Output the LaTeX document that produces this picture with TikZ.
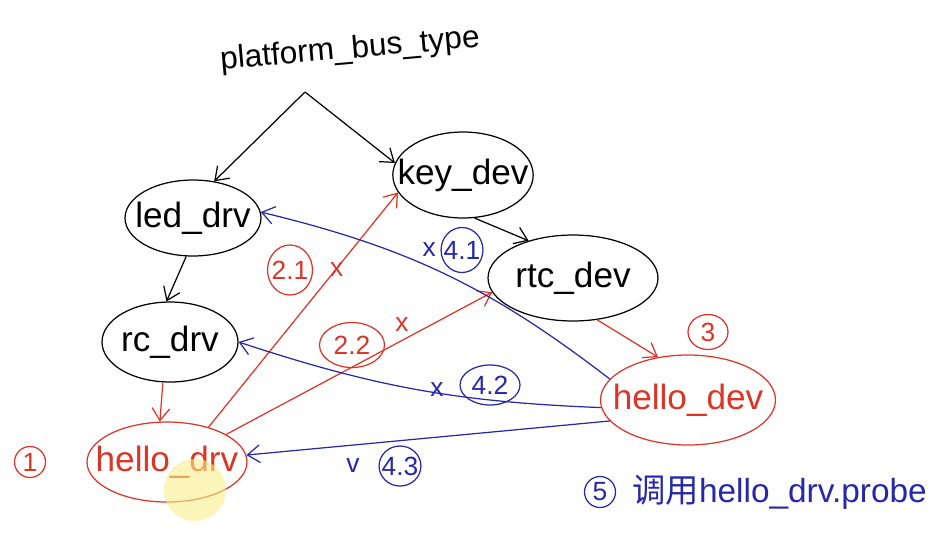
\documentclass[tikz,border=0pt]{standalone}
\usepackage{fontspec}
\setmainfont{Liberation Sans}
\newfontfamily\cjkfont{Noto Sans CJK SC}
\usetikzlibrary{shapes.geometric,arrows.meta,positioning}
\definecolor{inkred}{RGB}{221,52,38}
\definecolor{inkblue}{RGB}{38,40,170}
\definecolor{cursorhl}{RGB}{250,238,140}
\newcommand\handfont{\fontsize{20}{22}\selectfont}
\newcommand\tagfont{\fontsize{15}{16}\selectfont}
\tikzset{
  >={Straight Barb[length=7pt,width=10pt]},
  blob/.style={ellipse,draw=black,line width=0.7pt,inner xsep=-9pt,inner ysep=0pt,font=\handfont},
  redblob/.style={blob,draw=inkred,text=inkred},
  ring/.style={ellipse,draw,line width=0.7pt,inner sep=-2pt,font=\tagfont},
  redring/.style={ring,draw=inkred,text=inkred},
  bluering/.style={ring,draw=inkblue,text=inkblue},
  redcross/.style={text=inkred,font=\tagfont,inner sep=1pt},
  bluecross/.style={text=inkblue,font=\tagfont,inner sep=1pt},
  blacklink/.style={->,black,line width=0.7pt},
  redlink/.style={->,inkred,line width=0.7pt},
  bluelink/.style={->,inkblue,line width=0.7pt},
}
\begin{document}
\begin{tikzpicture}[x=0.02cm,y=-0.02cm]
        \useasboundingbox (0,0) rectangle (950,532);
        % bus and devices / drivers
        \node[font=\fontsize{18}{20}\selectfont,rotate=5] (bus) at (350,50) {platform\_bus\_type};
        \coordinate (fork) at (305,92);
        \node[blob,minimum width=2.72cm,minimum height=1.52cm] (ledDrv) at (193,218) {led\_drv};
        \node[blob,minimum width=2.8cm,minimum height=1.72cm] (keyDev) at (463,175) {key\_dev};
        \node[blob,minimum width=3.4cm,minimum height=1.72cm] (rtcDev) at (573,278) {rtc\_dev};
        \node[blob,minimum width=2.72cm,minimum height=1.6cm] (rcDrv) at (170,342) {rc\_drv};
        \node[redblob,minimum width=3.2cm,minimum height=1.6cm] (helloDrv) at (167,462) {hello\_drv};
        \node[redblob,minimum width=3.5cm,minimum height=1.8cm] (helloDev) at (688,400) {hello\_dev};
        % step tags
        \node[redring,circle,minimum size=0.62cm] (t1) at (30,462) {1};
        \node[redring,minimum width=0.9cm,minimum height=1cm] (t21) at (290,270) {2.1};
        \node[redcross,right=0.3cm of t21] (x21) {x};
        \node[redring,minimum width=1.3cm,minimum height=0.9cm] (t22) at (352,345) {2.2};
        \node[redcross] (x22) at (402,325) {x};
        \node[redring,minimum width=0.8cm,minimum height=0.7cm] (t3) at (708,332) {3};
        \node[bluering,minimum width=0.8cm,minimum height=0.9cm] (t41) at (462,250) {4.1};
        \node[bluecross,left=0.05cm of t41] (x41) {x};
        \node[bluering,minimum width=1.2cm,minimum height=0.8cm] (t42) at (490,385) {4.2};
        \node[bluecross] (x42) at (437,390) {x};
        \node[bluering,minimum width=0.8cm,minimum height=0.8cm] (t43) at (400,466) {4.3};
        \node[bluecross] (v43) at (353,466) {v};
        \node[bluering,circle,minimum size=0.62cm] (t5) at (600,492) {5};
        \node[text=inkblue,font=\fontsize{19}{21}\selectfont,anchor=west,right=0.2cm of t5] (probe) {{\cjkfont 调用}hello\_drv.probe};
        % links
        \draw[blacklink] (fork) -- (ledDrv.60);
        \draw[blacklink] (fork) -- (keyDev.170);
        \draw[blacklink] (keyDev.-75) -- (rtcDev.140);
        \draw[blacklink] (ledDrv.-100) -- (rcDrv.95);
        \draw[redlink] (rcDrv.-100) -- (helloDrv.100);
        \draw[redlink] (rtcDev.-60) -- (helloDev.125);
        \draw[redlink] (helloDrv.40) -- (keyDev.195);
        \draw[redlink] (helloDrv.25) -- (rtcDev.190);
        \draw[bluelink] (helloDev.165) to[bend right=12] (ledDrv.5);
        \draw[bluelink] (helloDev.185) to[bend left=8] (rcDrv.east);
        \draw[bluelink] (helloDev.195) -- (helloDrv.5);
        % pointer highlight
        \fill[cursorhl,opacity=0.6] (195,490) circle[radius=0.62cm];
\end{tikzpicture}
\end{document}
